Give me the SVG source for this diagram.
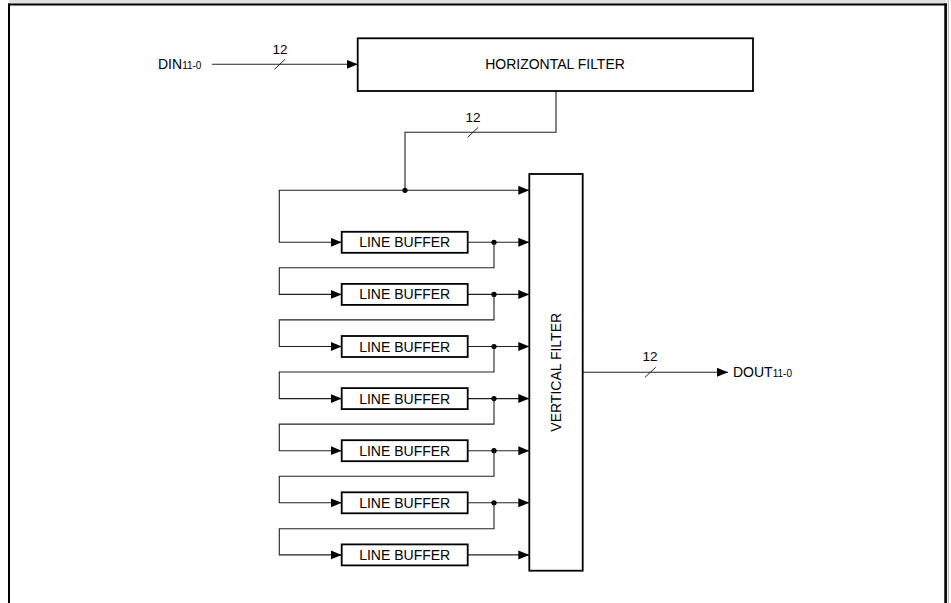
<svg xmlns="http://www.w3.org/2000/svg" width="951" height="603" viewBox="0 0 951 603">
<defs>
<marker id="arr" markerUnits="userSpaceOnUse" markerWidth="12" markerHeight="10" refX="11" refY="4.5" orient="auto">
<path d="M0,0 L11,4.5 L0,9 z" fill="#000"/>
</marker>
<style>
.frame{stroke:#000;fill:none}
.box{fill:#fff;stroke:#000;stroke-width:1.8}
.wire{fill:none;stroke:#222;stroke-width:1.1}
.arrow{fill:none;stroke:#222;stroke-width:1.1;marker-end:url(#arr)}
.tick{stroke:#222;stroke-width:1}
.dot{fill:#000}
text{font-family:"Liberation Sans",Arial,sans-serif;font-size:14px;fill:#000}
.c{text-anchor:middle}
.sub{font-size:10px}
.n{font-size:13.5px}
</style>
</defs>
<rect x="9" y="0" width="937" height="4" fill="#e0e0e0"/>
<line class="frame" x1="8" y1="4.5" x2="947" y2="4.5" stroke-width="2"/>
<line class="frame" x1="9" y1="3.5" x2="9" y2="603" stroke-width="2"/>
<line class="frame" x1="945.6" y1="3.5" x2="945.6" y2="603" stroke-width="2.6"/>
<line x1="948.3" y1="0" x2="948.3" y2="603" stroke="#aaa" stroke-width="1"/>

<g id="connectors">
<line class="arrow" x1="212" y1="64.3" x2="357.7" y2="64.3"/>
<line class="tick" x1="274.5" y1="69.3" x2="285" y2="59.3"/>
<text class="c n" x="280" y="54">12</text>
<polyline class="wire" points="556,91 556,132.3 405,132.3 405,190.3"/>
<line class="tick" x1="467.7" y1="137.3" x2="478.3" y2="127.3"/>
<text class="c n" x="473" y="122">12</text>
<line class="arrow" x1="405" y1="190.3" x2="529.3" y2="190.3"/>
<polyline class="arrow" points="405,190.3 279.3,190.3 279.3,242.3 341.7,242.3"/>
<circle class="dot" cx="405" cy="190.3" r="2.6"/>

<line class="arrow" x1="467.7" y1="242.3" x2="529.3" y2="242.3"/>
<circle class="dot" cx="494" cy="242.3" r="2.6"/>
<polyline class="arrow" points="494,242.3 494,267.8 279.3,267.8 279.3,294.4 341.7,294.4"/>

<line class="arrow" x1="467.7" y1="294.4" x2="529.3" y2="294.4"/>
<circle class="dot" cx="494" cy="294.4" r="2.6"/>
<polyline class="arrow" points="494,294.4 494,319.9 279.3,319.9 279.3,346.5 341.7,346.5"/>

<line class="arrow" x1="467.7" y1="346.5" x2="529.3" y2="346.5"/>
<circle class="dot" cx="494" cy="346.5" r="2.6"/>
<polyline class="arrow" points="494,346.5 494,372 279.3,372 279.3,398.6 341.7,398.6"/>

<line class="arrow" x1="467.7" y1="398.6" x2="529.3" y2="398.6"/>
<circle class="dot" cx="494" cy="398.6" r="2.6"/>
<polyline class="arrow" points="494,398.6 494,424.1 279.3,424.1 279.3,450.7 341.7,450.7"/>

<line class="arrow" x1="467.7" y1="450.7" x2="529.3" y2="450.7"/>
<circle class="dot" cx="494" cy="450.7" r="2.6"/>
<polyline class="arrow" points="494,450.7 494,476.2 279.3,476.2 279.3,502.8 341.7,502.8"/>

<line class="arrow" x1="467.7" y1="502.8" x2="529.3" y2="502.8"/>
<circle class="dot" cx="494" cy="502.8" r="2.6"/>
<polyline class="arrow" points="494,502.8 494,528.8 279.3,528.8 279.3,554.9 341.7,554.9"/>

<line class="arrow" x1="467.7" y1="554.9" x2="529.3" y2="554.9"/>

<line class="arrow" x1="582.7" y1="372.3" x2="728" y2="372.3"/>
<line class="tick" x1="645" y1="377.3" x2="655.7" y2="367.3"/>
<text class="c n" x="650" y="361">12</text>
</g>

<g id="din"><text x="158" y="69.3">DIN<tspan class="sub">11-0</tspan></text></g>
<g id="dout"><text x="733" y="377.3">DOUT<tspan class="sub">11-0</tspan></text></g>

<g id="horizontal-filter">
<rect class="box" x="357.7" y="38.3" width="395.3" height="52.7"/>
<text class="c" x="555" y="69.3">HORIZONTAL FILTER</text>
</g>

<g id="vertical-filter">
<rect class="box" x="529.3" y="174" width="53.4" height="396.7"/>
<text class="c" transform="translate(561,372.3) rotate(-90)" x="0" y="0">VERTICAL FILTER</text>
</g>

<g id="lb1"><rect class="box" x="341.7" y="231.8" width="126" height="21"/><text class="c" x="404.7" y="247.3">LINE BUFFER</text></g>
<g id="lb2"><rect class="box" x="341.7" y="283.9" width="126" height="21"/><text class="c" x="404.7" y="299.4">LINE BUFFER</text></g>
<g id="lb3"><rect class="box" x="341.7" y="336" width="126" height="21"/><text class="c" x="404.7" y="351.5">LINE BUFFER</text></g>
<g id="lb4"><rect class="box" x="341.7" y="388.1" width="126" height="21"/><text class="c" x="404.7" y="403.6">LINE BUFFER</text></g>
<g id="lb5"><rect class="box" x="341.7" y="440.2" width="126" height="21"/><text class="c" x="404.7" y="455.7">LINE BUFFER</text></g>
<g id="lb6"><rect class="box" x="341.7" y="492.3" width="126" height="21"/><text class="c" x="404.7" y="507.8">LINE BUFFER</text></g>
<g id="lb7"><rect class="box" x="341.7" y="544.4" width="126" height="21"/><text class="c" x="404.7" y="559.9">LINE BUFFER</text></g>
</svg>
